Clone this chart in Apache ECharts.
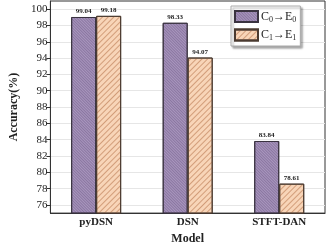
<!DOCTYPE html>
<html><head><meta charset="utf-8">
<script src="https://cdn.jsdelivr.net/npm/echarts@6/dist/echarts.min.js"></script>
<style>html,body{margin:0;padding:0;background:#fff}#c{width:327px;height:250px}</style>
</head><body><div id="c"></div>
<script>
const categories = ['pyDSN', 'DSN', 'STFT-DAN'];
const seriesC0E0 = [99.04, 98.33, 83.84];
const seriesC1E1 = [99.18, 94.07, 78.61];
const yTicks = [76, 78, 80, 82, 84, 86, 88, 90, 92, 94, 96, 98, 100];
const legendNames = ['C0→E0', 'C1→E1'];

const FONT = 'Liberation Serif';
const chart = echarts.init(document.getElementById('c'));
const labelCfg = {
  show: true, position: 'top', distance: 2,
  fontFamily: FONT, fontSize: 7, fontWeight: 'bold', color: '#222',
  formatter: p => p.value.toFixed(2)
};
chart.setOption({
  animation: false,
  grid: { left: 31, right: 2, top: 1, bottom: 28, show: true, borderColor: '#333', borderWidth: 1 },
  legend: {
    left: 231, top: 6, orient: 'vertical', itemWidth: 23, itemHeight: 11, itemGap: 5,
    icon: 'rect', borderRadius: 0,
    padding: [4, 4, 4, 3], backgroundColor: '#fff', borderColor: '#aaa', borderWidth: 1,
    shadowColor: 'rgba(0,0,0,0.35)', shadowBlur: 2, shadowOffsetX: 2, shadowOffsetY: 2,
    data: legendNames,
    formatter: n => n.replace(/([CE])(\d)/g, '$1{s|$2}'),
    textStyle: { fontFamily: FONT, fontSize: 12, color: '#222', padding: [0, 0, 0, -2],
      rich: { s: { fontFamily: FONT, fontSize: 8, verticalAlign: 'bottom', padding: [6, 0, 0, 0], color: '#222' } } }
  },
  xAxis: {
    type: 'category', data: categories,
    name: 'Model', nameLocation: 'middle', nameGap: 15,
    nameTextStyle: { fontFamily: FONT, fontSize: 12, fontWeight: 'bold', color: '#222' },
    axisLine: { lineStyle: { color: '#333', width: 1 } },
    axisTick: { show: false },
    axisLabel: { fontFamily: FONT, fontSize: 11, fontWeight: 'bold', color: '#222', margin: 4 }
  },
  yAxis: {
    type: 'value', min: 75, max: 101,
    name: 'Accuracy(%)', nameLocation: 'middle', nameGap: 17,
    nameTextStyle: { fontFamily: FONT, fontSize: 12, fontWeight: 'bold', color: '#222' },
    axisLine: { show: true, lineStyle: { color: '#333', width: 1 } },
    axisTick: { show: true, length: 4, customValues: yTicks, lineStyle: { color: '#333' } },
    axisLabel: { fontFamily: FONT, fontSize: 11, color: '#222', margin: 3, customValues: yTicks },
    splitLine: { show: true, customValues: yTicks, lineStyle: { color: '#e6e6e6', width: 1 } }
  },
  series: [
    {
      name: legendNames[0], type: 'bar', data: seriesC0E0, barWidth: 25, barGap: '0%',
      itemStyle: {
        color: '#a996be', borderColor: '#3a3340', borderWidth: 1,
        decal: { symbol: 'rect', dashArrayX: [1, 0], dashArrayY: [1, 1], rotation: Math.PI / 4, color: 'rgba(80,60,105,0.35)' }
      },
      label: labelCfg
    },
    {
      name: legendNames[1], type: 'bar', data: seriesC1E1, barWidth: 25,
      itemStyle: {
        color: '#f8d5b8', borderColor: '#4a3a30', borderWidth: 1,
        decal: { symbol: 'rect', dashArrayX: [1, 0], dashArrayY: [1, 2.5], rotation: -Math.PI / 4, color: 'rgba(185,120,80,0.6)' }
      },
      label: labelCfg
    }
  ]
});
</script></body></html>
